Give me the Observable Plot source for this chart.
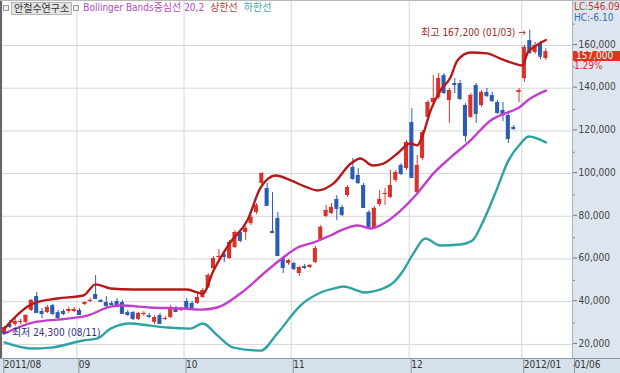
<!DOCTYPE html>
<html><head><meta charset="utf-8">
<script src="https://cdn.jsdelivr.net/npm/d3@7"></script>
<script src="https://cdn.jsdelivr.net/npm/@observablehq/plot@0.6"></script>
<style>
body{margin:0;background:#fff;}
#wrap{position:relative;width:620px;height:373px;overflow:hidden;background:#fff;
 font-family:"Liberation Sans Narrow","DejaVu Sans Condensed","Liberation Sans","Noto Sans CJK KR",sans-serif;font-size:10px;}
#panel{position:absolute;left:572px;top:0;width:48px;height:358px;background:#dde6ef;border-left:1px solid #a9b4c2;box-sizing:border-box;}
#strip{position:absolute;left:0;top:358px;width:620px;height:15px;background:#d7e1ec;border-top:1px solid #8d99a8;box-sizing:border-box;}
#chart{position:absolute;left:0;top:0;}
#hdr{position:absolute;left:2px;top:2px;height:12px;line-height:12px;white-space:nowrap;font-size:10px;}
#hdr span{display:inline-block;vertical-align:top;}
.sq{width:4px;height:4px;border:1px solid #999;margin:3px 2px 0 1px;background:#eee;}
.box{background:#e4e4e4;border:1px solid #b5b5b5;padding:0 2px;color:#333;height:11px;line-height:11px;}
#lc,#hc,#pct{position:absolute;left:574px;font-size:10px;line-height:10px;white-space:nowrap;}
#lastbox{position:absolute;left:573px;width:47px;height:10px;line-height:10px;background:#e3321f;color:#fff;padding-left:3px;box-sizing:border-box;font-size:10px;}
#lb{position:absolute;left:0;top:0;width:2px;height:358px;background:#666;}
#tb{position:absolute;left:0;top:0;width:620px;height:1px;background:#b8b8b8;}
</style></head><body>
<div id="wrap">
 <div id="panel"></div>
 <div id="strip"></div>
 <div id="chart"></div>
 <div id="hdr"></div>
 <div id="lc"></div><div id="hc"></div>
 <div id="lastbox"></div><div id="pct"></div>
 <div id="lb"></div><div id="tb"></div>
</div>
<script>
// ---- data: daily candles 2011/08/11 .. 2012/01/06 (index order) ----
const open  = [25100,29300,29300,30300,30300,35900,42400,35400,34900,38200,34900,35400,35400,35400,
  35900,38700,40100,43400,40600,39600,39200,40100,39600,34900,34900,31700,34000,33500,30300,33500,31700,32600,36800,35900,
  40100,39200,39200,42000,46600,55500,60700,62100,60200,65400,72400,72400,76600,81800,95400,93000,72900,79000,60200,57900,
  57900,53200,56500,56000,58400,68700,79900,81300,87900,84100,89700,102900,99100,94400,81800,74300,85500,90200,88800,96800,103800,102400,
  123900,91100,107100,126300,133300,135600,145900,134200,142200,142200,131900,126300,141300,131900,138000,136600,133300,129600,127200,121600,138000,
  144500,162300,156700,160900,153900];
const high  = [28400,31200,32600,31700,34000,41000,44300,36800,38200,38700,35900,36300,37300,37300,
  36800,40100,41500,52300,41000,42400,40100,41500,40600,35900,35400,34900,35400,34500,33500,34500,33100,38200,37700,37300,
  41500,40100,44300,46200,53200,61200,64400,64000,68700,73300,73300,75200,80400,86000,100500,95400,91100,81800,60700,59800,
  58400,56500,57400,57400,65900,75700,85100,86000,89700,85100,94400,107100,102400,95400,82700,84600,92100,93000,101500,101500,104700,115500,
  130500,108500,120200,134200,145900,146900,146900,139900,144500,143600,132800,137500,142200,138900,139900,138000,134200,133300,128100,122500,139900,
  160000,167200,161400,161900,158500];
const low   = [24300,27400,28400,29300,29800,35400,34500,32100,34500,33500,31200,33500,34500,34900,
  33500,38200,39600,41000,39600,37300,38200,37300,34000,33100,31200,31200,33100,32100,29300,29300,31200,32100,34900,35400,
  36800,36800,38700,41500,46200,54600,59300,58400,59800,64900,67700,68700,75700,80800,94400,84600,71900,61200,53200,57000,
  54600,51800,55100,55500,57900,68200,79400,80800,78000,79900,88800,96800,94900,83700,73800,73800,84600,85100,88300,95800,99100,101500,
  97700,90700,106100,124900,132400,134700,137000,123500,137500,134200,114600,125800,123500,131000,135600,133300,127700,124400,114100,120200,133300,
  142700,155800,155800,153400,153000];
const close = [27900,28400,30700,30700,33500,40600,34900,34500,37300,34500,32600,34500,36300,36300,
  34000,39600,40600,41500,40100,38200,38700,37700,34500,34000,32100,34500,34500,33100,32600,29800,32100,37300,35400,36300,
  37300,37300,42000,45200,52300,60200,61200,61200,67700,72400,68700,74300,79400,85100,100000,85100,72400,61600,56000,59300,
  55500,56000,56000,57000,64900,74800,82700,84100,83700,80800,93500,97700,95800,84100,74800,83700,87900,90700,94400,100500,100000,114600,
  98200,103800,119200,133300,135200,144500,138000,138900,141700,135200,117800,136600,128100,138000,136600,134200,128600,128100,116400,121100,138900,
  159100,156700,160000,155000,157000];

// Bollinger bands (20,2) at candle positions
const upperIdx = [0,5.4,9.9,14.7,17,19.8,24,34,37,39,42,45.3,47.8,50.6,53.4,56.5,58.4,61.4,64.6,66.4,68.7,70.7,73.3,75.7,77,78,79.5,81.3,83.2,84.5,87,90,92.5,95,96.6,97.6,98.7,101];
const upperVal = [27400,39200,41500,42900,48100,46200,45700,45700,43800,54600,67300,78000,93500,99100,96800,93500,92100,95400,104700,107100,103800,104700,109400,114100,113200,117800,129600,138900,145000,153000,156700,156300,153900,151600,150600,156700,159100,162600];
const midIdx = [0,5.4,11.8,15.5,19.8,21.6,27.2,33.4,36.6,39.7,44,49,52,54.7,57.6,60.8,62.7,65.9,68.3,70.7,73.9,77,80,83.2,86.9,90.7,93.8,95.7,98.1,101];
const midVal = [25100,30300,32100,33500,37700,38200,37300,36800,36300,37300,43800,54600,60700,65400,67700,71000,73300,75700,74300,76600,82700,90700,100000,107500,115500,124900,128600,130500,135200,138900];
const lowerIdx = [0,4.9,8.6,14.7,17.4,19.8,23.5,27.2,30.4,34.7,37,39.7,42.7,47.8,50.9,55.2,59,62.1,63.2,65.9,67,70.7,72.6,74.4,76.3,78.5,81.3,85,87.3,89.2,91.6,94,96.3,97.8,101];
const lowerVal = [20900,18100,18500,21800,22800,27400,29800,28800,27900,27400,29800,24200,18500,17100,25100,38200,44300,46600,47100,45200,44300,46200,49000,54600,62600,69600,66300,66800,68700,77100,91100,106100,114100,117400,114600];

const monthStart  = [0,14,34,54,76,97];
const monthLabels = ["2011/08","09","10","11","12","2012/01"];
const lastDateLabel = "01/06";
const yTicks = [20000,40000,60000,80000,100000,120000,140000,160000];
const stockName = "안철수연구소";
const legendMain = "Bollinger Bands중심선 20,2", legendUp = "상한선", legendDn = "하한선";
const lcText = "LC:546.09", hcText = "HC:-6.10", changePct = "1.29%";
const hiDate = "01/03", loDate = "08/11";

// ---- build ----
const FONT = '"Liberation Sans Narrow","DejaVu Sans Condensed","Liberation Sans","Noto Sans CJK KR",sans-serif';
const RED = "#d9322a", BLUE = "#2c5bb5";
const C_UP = "#b51a1a", C_MID = "#c13fcb", C_LOW = "#2fa3a3";
const candles = open.map((o, i) => ({i, o, h: high[i], l: low[i], c: close[i], up: close[i] >= o}));
const toPts = (ix, v) => ix.map((x, k) => ({x, y: v[k]}));
const upper = toPts(upperIdx, upperVal), mid = toPts(midIdx, midVal), lower = toPts(lowerIdx, lowerVal);
const n = open.length;
const xDomain = [-0.746, n + 3.97];
const stripTicks = monthStart.map(i => i - 0.5).concat([xDomain[1]]);
const stripLabels = monthLabels.concat([lastDateLabel]);
const stripMap = new Map(stripTicks.map((t, k) => [t, stripLabels[k]]));
const minorTicks = d3.range(10000, 180000, 20000);
const hiIdx = d3.maxIndex(high), loIdx = d3.minIndex(low);
const fmt = d3.format(",");

const plot = Plot.plot({
  width: 620, height: 373,
  marginTop: 0, marginLeft: 0, marginRight: 48, marginBottom: 15,
  style: {background: "transparent", fontFamily: FONT, fontSize: "10px", overflow: "visible"},
  x: {domain: xDomain, axis: null},
  y: {domain: [13396, 181077], axis: null},
  marks: [
    Plot.ruleY(yTicks, {stroke: "#d6d6d6"}),
    Plot.ruleX(stripTicks.slice(0, -1), {stroke: "#d6d6d6"}),
    Plot.ruleX(candles, {x: "i", y1: "l", y2: "h", stroke: d => d.up ? RED : BLUE, strokeWidth: 1}),
    Plot.rect(candles, {x1: d => d.i - 0.38, x2: d => d.i + 0.38, y1: "o", y2: "c", fill: d => d.up ? RED : BLUE}),
    Plot.ruleY(candles, {x1: d => d.i - 0.38, x2: d => d.i + 0.38, y: "c", stroke: d => d.up ? RED : BLUE}),
    Plot.line(lower, {x: "x", y: "y", stroke: C_LOW, strokeWidth: 2.4, curve: "monotone-x"}),
    Plot.line(mid, {x: "x", y: "y", stroke: C_MID, strokeWidth: 2.4, curve: "monotone-x"}),
    Plot.line(upper, {x: "x", y: "y", stroke: C_UP, strokeWidth: 2.4, curve: "monotone-x"}),
    Plot.axisY({anchor: "right", ticks: yTicks, tickFormat: fmt, tickSize: 4, tickPadding: 2, dy: -1, fill: "#444", stroke: "#777", fontSize: 10}),
    Plot.axisY({anchor: "right", ticks: minorTicks, tickSize: 2, tickFormat: () => "", stroke: "#888"}),
    Plot.axisX({anchor: "bottom", ticks: stripTicks, tickFormat: d => stripMap.get(d), tickSize: 15, tickPadding: -13,
      textAnchor: "start", dx: 2, stroke: "#8d99a8", fill: "#333", fontSize: 10}),
    Plot.text([hiIdx], {x: d => d, y: d => high[d], text: d => `최고 ${fmt(high[d])} (${hiDate}) →`,
      textAnchor: "end", dx: -4, dy: 3, fill: "#a3282a", fontSize: 10}),
    Plot.text([loIdx], {x: d => d, y: d => low[d], text: d => `← 최저 ${fmt(low[d])} (${loDate})`,
      textAnchor: "start", dx: -3, dy: -2, fill: "#35307e", fontSize: 10})
  ]
});
document.getElementById("chart").appendChild(plot);

// header & right-panel texts
document.getElementById("hdr").innerHTML =
  `<span class="sq"></span><span class="box">${stockName}</span><span class="sq"></span>` +
  `<span style="color:#b548c6;margin-left:2px">${legendMain}</span>` +
  `<span style="color:#c0392b;margin-left:6px">${legendUp}</span>` +
  `<span style="color:#3aa8a8;margin-left:6px">${legendDn}</span>`;
const lc = document.getElementById("lc"); lc.textContent = lcText; lc.style.top = "2px"; lc.style.color = "#c0392b";
const hc = document.getElementById("hc"); hc.textContent = hcText; hc.style.top = "13px"; hc.style.color = "#2e6db4";
const ys = plot.scale("y");
const yLast = ys.apply(close[n - 1]);
const lb = document.getElementById("lastbox"); lb.textContent = fmt(close[n - 1]); lb.style.top = (yLast - 0.5) + "px";
const pc = document.getElementById("pct"); pc.textContent = changePct; pc.style.top = (yLast + 10) + "px"; pc.style.color = "#d0312d";
</script>
</body></html>
